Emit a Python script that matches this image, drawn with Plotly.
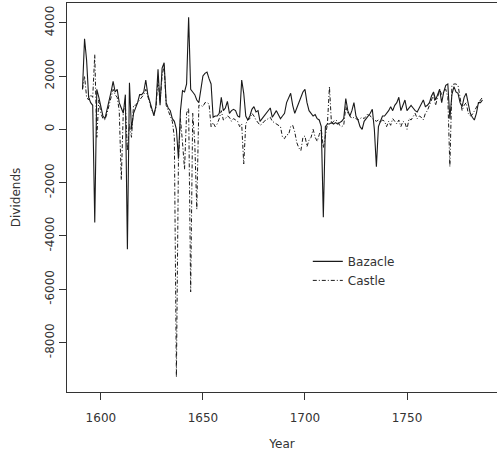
import plotly.graph_objects as go

years = list(range(1591, 1788))

bazacle = [
    1500, 3400, 2600, 1200, 1000, 900, -3500, 1500, 1200,
    900, 500, 400, 700, 1000, 1400, 1800, 1400, 1500, 1000,
    800, 600, 1300, -4500, 1750, 0, 600, 800, 1000, 1300,
    1300, 1400, 1850, 1300, 1000, 700, 500, 900, 2250, 900,
    2300, 2500, 1000, 800, 700, 400, 300, 0, -1100, 700,
    1450, 1400, 1700, 4200, 1500, 1400, 1300, 1100, 1000, 1500,
    2000, 2100, 2150, 1900, 1700, 450, 500, 500, 600, 1200,
    700, 800, 1050, 600, 700, 750, 700, 500, 450, 1850,
    1350, 500, 350, 500, 750, 850, 650, 700, 300, 400,
    500, 600, 700, 800, 450, 600, 700, 550, 400, 500,
    600, 1000, 1200, 1350, 900, 600, 800, 1000, 1200, 1400,
    1500, 1000, 700, 600, 500, 550, 400, 350, 100, -3300,
    100, 200, 200, 250, 200, 250, 200, 250, 300, 400,
    1150, 700, 500, 700, 1000, 500, 350, 100, 0, 300,
    400, 500, 600, 750, 0, -1400, 100, 300, 500, 500,
    600, 700, 850, 700, 900, 1000, 1200, 700, 900, 1100,
    700, 800, 900, 800, 700, 650, 800, 1000, 1100, 850,
    900, 1000, 1250, 1400, 1100, 1300, 1500, 1000, 1400, 1650,
    1700, 400, 1300, 1600, 1400, 1350, 1000, 850, 1200, 1350,
    900, 600, 450, 350, 600, 1000, 1000, 1100,
]

castle = [
    1500, 2000, 1200, 1100, 1300, 1200, 2800, -300, 1100,
    600, 400, 350, 600, 900, 1200, 1500, 1300, 1200, 700,
    -1900, 700, 900, -800, 200, -300, 900, 900, 1000, 1100,
    1200, 1300, 1500, 1200, 900, 700, 600, 800, 1900, 1000,
    2000, 2400, 900, 700, 500, 300, -300, -9300, -1200, 400,
    -500, -1500, 600, 800, -6100, 600, -500, -3000, 900, 900,
    850, 1000, 1000, 950, 100, 250, 100, 200, 400, 700,
    350, 400, 500, 450, 300, 400, 350, 300, 100, 200,
    -1300, 200, 350, 400, 600, 500, 350, 250, 150, 200,
    300, 350, 400, 450, 300, 250, 200, 150, 100, -300,
    -350, -200, -200, 100, 150, -100, -500, -700, -800, -300,
    -250, -650, -400, -300, 0, -300, -450, -200, 0, -700,
    -200, 200, 1600, 200, 300, 350, 300, 150, 100, 150,
    850, 600, 500, 400, 450, 400, 350, 400, 450, 400,
    500, 600, 500, 400, 350, 300, 350, 250, 350, 300,
    100, 300, 150, 400, 300, 200, 350, 100, 300, 250,
    0, 400, 350, 500, 600, 400, 500, 450, 350, 600,
    700, 900, 1100, 1300, 900, 1200, 1500, 1300, 1400, 1500,
    1200, -1400, 1650, 1700, 1700, 1650, 1200, 700, 900, 1000,
    600, 500, 550, 700, 850, 1000, 1100, 1200,
]

x_ticks = [1600, 1650, 1700, 1750]
y_ticks = [-8000, -6000, -4000, -2000, 0, 2000, 4000]
y_tick_labels = ["-8000", "-6000", "-4000", "-2000", "0", "2000", "4000"]

assert len(bazacle) == len(years) and len(castle) == len(years)

FONT = "DejaVu Sans"
fig = go.Figure()
fig.add_trace(go.Scatter(x=years, y=bazacle, mode="lines", name="Bazacle",
                         line=dict(color="#1a1a1a", width=1.1)))
fig.add_trace(go.Scatter(x=years, y=castle, mode="lines", name="Castle",
                         line=dict(color="#1a1a1a", width=1, dash="4px,2px,1px,2px")))

fig.update_layout(
    width=497, height=451,
    margin=dict(l=67, r=0, t=3, b=59),
    paper_bgcolor="white", plot_bgcolor="white",
    font=dict(family=FONT, size=12, color="#333"),
    showlegend=True,
    legend=dict(x=0.56, y=0.373, xanchor="left", yanchor="top",
                bgcolor="rgba(0,0,0,0)", font=dict(size=12, color="#333"),
                tracegroupgap=0, itemwidth=30),
    xaxis=dict(range=[1583.4, 1794.1], tickvals=x_ticks, ticks="outside",
               ticklen=7, tickcolor="#333", showline=True, linecolor="#333",
               linewidth=1, mirror=True, showgrid=False, zeroline=False,
               ticklabelstandoff=8, automargin=False,
               title=dict(text="Year", standoff=20, font=dict(size=12))),
    yaxis=dict(range=[-9857, 4739], tickvals=y_ticks, ticktext=y_tick_labels,
               ticks="outside", automargin=False,
               ticklen=7, tickcolor="#333", showline=True, linecolor="#333",
               linewidth=1, mirror=False, showgrid=False, zeroline=False,
               tickangle=-90,
               title=dict(text="Dividends", standoff=20, font=dict(size=12))),
)

fig.write_html("out.html")
